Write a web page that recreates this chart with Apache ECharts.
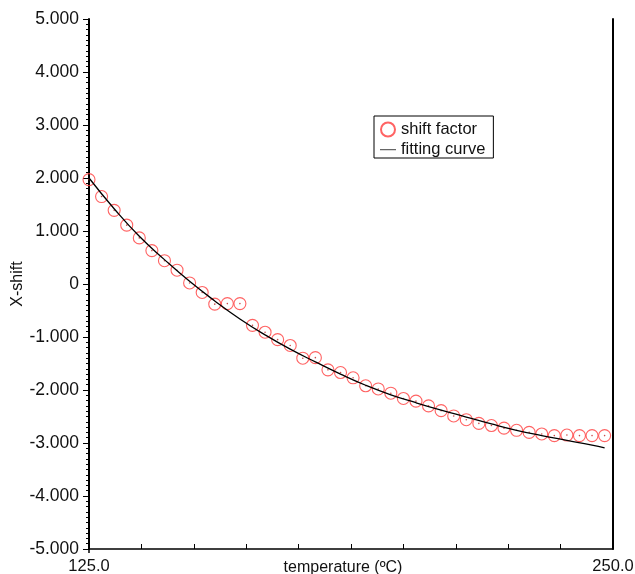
<!DOCTYPE html>
<html>
<head>
<meta charset="utf-8">
<script src="https://cdn.jsdelivr.net/npm/echarts@6/dist/echarts.min.js"></script>
<style>
  html, body { margin: 0; padding: 0; background: #fff; }
  #chart { width: 635px; height: 574px; }
</style>
</head>
<body>
<div id="chart"></div>
<script>
// measured shift factor, one reading every 3 °C
var shiftTemps = [125, 128, 131, 134, 137, 140, 143, 146, 149, 152, 155, 158, 161, 164,
  167, 170, 173, 176, 179, 182, 185, 188, 191, 194, 197, 200, 203, 206, 209, 212, 215,
  218, 221, 224, 227, 230, 233, 236, 239, 242, 245, 248];
var shiftValues = [1.97, 1.65, 1.39, 1.11, 0.87, 0.63, 0.44, 0.26, 0.02, -0.16, -0.38,
  -0.37, -0.37, -0.78, -0.91, -1.05, -1.16, -1.40, -1.39, -1.62, -1.67, -1.77, -1.92,
  -1.98, -2.06, -2.16, -2.21, -2.30, -2.39, -2.49, -2.56, -2.63, -2.67, -2.72, -2.76,
  -2.80, -2.83, -2.86, -2.85, -2.86, -2.86, -2.86];

// fitted curve
var curveTemps = [125, 131, 137, 143, 149, 155, 161, 167, 173, 179, 185, 191, 197, 203,
  209, 215, 221, 227, 233, 239, 245, 248];
var curveValues = [2.00, 1.42, 0.90, 0.46, 0.05, -0.32, -0.66, -0.96, -1.23, -1.47,
  -1.70, -1.91, -2.09, -2.24, -2.38, -2.51, -2.64, -2.76, -2.86, -2.95, -3.04, -3.09];

var seriesNames = ['shift factor', 'fitting curve'];
var axisNames = { x: 'temperature (\u00baC)', y: 'X-shift' };

function pairs(xs, ys) {
  return xs.map(function (x, i) { return [x, ys[i]]; });
}

var FONT = 'Liberation Sans, Arial, sans-serif';
var TXT = '#111';

// legend swatch for the curve: a thin bar, padded top and bottom so it is not stretched
var LINE_ICON = 'path://M0,0L0.01,0L0.01,0.01Z M0,6.4L16,6.4L16,7.8L0,7.8Z M0,14L0.01,14L0.01,13.99Z';

var chart = echarts.init(document.getElementById('chart'), null, { renderer: 'canvas' });

chart.setOption({
  animation: false,
  backgroundColor: '#fff',
  textStyle: { fontFamily: FONT, color: TXT },
  grid: { left: 89, right: 22, top: 19, bottom: 25, containLabel: false, outerBoundsMode: 'none' },
  legend: {
    orient: 'vertical',
    left: 374,
    top: 116,
    padding: [5, 8, 0, 6],
    itemGap: 3,
    itemWidth: 16,
    itemHeight: 14,
    borderColor: '#000',
    borderWidth: 1,
    backgroundColor: '#fff',
    textStyle: { fontFamily: FONT, fontSize: 16.5, color: TXT },
    data: [
      { name: seriesNames[0], icon: 'circle' },
      { name: seriesNames[1], icon: LINE_ICON, itemStyle: { color: '#666', borderWidth: 0 } }
    ]
  },
  xAxis: [{
    type: 'value',
    min: 125,
    max: 250,
    interval: 12.5,
    name: axisNames.x,
    nameLocation: 'middle',
    nameGap: 11,
    nameMoveOverlap: false,
    nameTextStyle: { fontFamily: FONT, fontSize: 16, color: TXT, padding: [0, 16, 0, 0] },
    axisLine: { show: true, onZero: false, lineStyle: { color: '#000', width: 1.5 } },
    axisTick: { show: true, inside: true, length: 5, lineStyle: { color: '#000', width: 1 } },
    axisLabel: {
      show: true,
      fontFamily: FONT,
      fontSize: 16.5,
      color: TXT,
      margin: 9,
      customValues: [125, 250],
      formatter: function (v) { return v.toFixed(1); }
    },
    splitLine: { show: false }
  }, {
    // short outward mark under the origin
    type: 'value',
    position: 'bottom',
    min: 125,
    max: 250,
    axisLine: { show: false, onZero: false },
    axisTick: { show: true, inside: false, length: 4, customValues: [125], lineStyle: { color: '#000', width: 1.5 } },
    axisLabel: { show: false },
    splitLine: { show: false }
  }],
  yAxis: [{
    type: 'value',
    min: -5,
    max: 5,
    interval: 1,
    name: axisNames.y,
    nameLocation: 'middle',
    nameGap: 63,
    nameMoveOverlap: false,
    nameTextStyle: { fontFamily: FONT, fontSize: 16, color: TXT },
    axisLine: { show: true, onZero: false, lineStyle: { color: '#000', width: 2 } },
    axisTick: { show: true, inside: false, length: 6, lineStyle: { color: '#000', width: 1 } },
    minorTick: { show: true, splitNumber: 10, length: 3, lineStyle: { color: '#000', width: 1 } },
    axisLabel: {
      fontFamily: FONT,
      fontSize: 17.5,
      color: TXT,
      margin: 10,
      formatter: function (v) { return v === 0 ? '0' : v.toFixed(3); }
    },
    splitLine: { show: false },
    minorSplitLine: { show: false }
  }, {
    type: 'value',
    position: 'right',
    min: -5,
    max: 5,
    axisLine: { show: true, onZero: false, lineStyle: { color: '#000', width: 2 } },
    axisTick: { show: false },
    axisLabel: { show: false },
    splitLine: { show: false }
  }],
  series: [{
    name: seriesNames[0],
    type: 'scatter',
    symbol: 'circle',
    symbolSize: 12,
    itemStyle: { color: 'rgba(255,255,255,0)', borderColor: '#ff3c3c', borderWidth: 1.1 },
    data: pairs(shiftTemps, shiftValues),
    z: 2
  }, {
    // centre dot of each reading
    name: 'centre',
    type: 'scatter',
    symbol: 'circle',
    symbolSize: 1.6,
    silent: true,
    itemStyle: { color: '#c02020' },
    data: pairs(shiftTemps, shiftValues),
    z: 3
  }, {
    name: seriesNames[1],
    type: 'line',
    smooth: true,
    showSymbol: false,
    symbol: 'none',
    lineStyle: { color: '#000', width: 1.3 },
    itemStyle: { color: '#000' },
    data: pairs(curveTemps, curveValues),
    z: 4
  }]
});
</script>
</body>
</html>
